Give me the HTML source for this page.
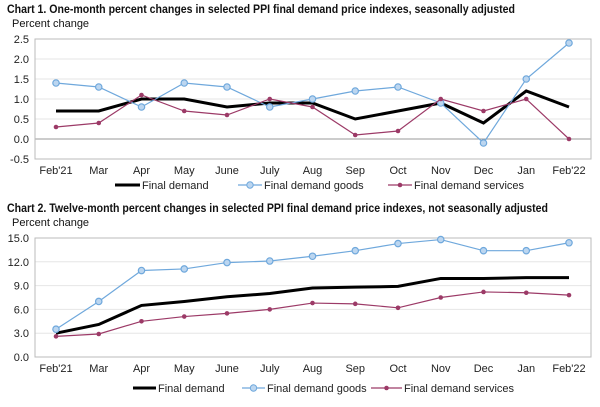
<!DOCTYPE html>
<html><head><meta charset="utf-8"><style>
body{margin:0;background:#fff;width:600px;height:402px;overflow:hidden}
svg{font-family:"Liberation Sans",Arial,sans-serif}
</style></head><body>
<svg id="s" width="600" height="402"></svg>
<script>
const cats=["Feb'21","Mar","Apr","May","June","July","Aug","Sep","Oct","Nov","Dec","Jan","Feb'22"];
const c1Final=[0.7,0.7,1.0,1.0,0.8,0.9,0.9,0.5,0.7,0.9,0.4,1.2,0.8];
const c1Goods=[1.4,1.3,0.8,1.4,1.3,0.8,1.0,1.2,1.3,0.9,-0.1,1.5,2.4];
const c1Serv=[0.3,0.4,1.1,0.7,0.6,1.0,0.8,0.1,0.2,1.0,0.7,1.0,0.0];
const c1Ticks=[-0.5,0,0.5,1,1.5,2,2.5];
const c2Final=[3.0,4.1,6.5,7.0,7.6,8.0,8.7,8.8,8.9,9.9,9.9,10.0,10.0];
const c2Goods=[3.5,7.0,10.9,11.1,11.9,12.1,12.7,13.4,14.3,14.8,13.4,13.4,14.4];
const c2Serv=[2.6,2.9,4.5,5.1,5.5,6.0,6.8,6.7,6.2,7.5,8.2,8.1,7.8];
const c2Ticks=[0,3,6,9,12,15];

const S=document.getElementById('s');const NS="http://www.w3.org/2000/svg";
function mk(t,a,txt){const e=document.createElementNS(NS,t);for(const k in a)e.setAttribute(k,a[k]);if(txt!==undefined)e.textContent=txt;S.appendChild(e);return e;}

function chart(o){
  const L=35,R=591,T=o.top,B=o.bot;
  const x=i=>56+i*(569-56)/12;
  const y=v=>B-(v-o.min)/(o.max-o.min)*(B-T);
  let e=mk('text',{x:7,y:T-26,'font-size':12,'font-weight':'bold',fill:'#111',textLength:o.tlen,lengthAdjust:'spacingAndGlyphs'},o.title);
  
  e=mk('text',{x:12,y:T-12,'font-size':11,fill:'#111'},'Percent change');
  
  o.ticks.forEach(t=>{
    const g=mk('line',{x1:L,x2:R,y1:y(t),y2:y(t),stroke:t===0&&o.min<0?'#999':'#e6e6e6','stroke-width':1});
    
    const lb=mk('text',{x:29,y:y(t)+4,'font-size':11,fill:'#222','text-anchor':'end'},t.toFixed(1));
    
  });
  e=mk('rect',{x:L,y:T,width:R-L,height:B-T,fill:'none',stroke:'#bbb'});
  
  cats.forEach((c,i)=>{const t=mk('text',{x:x(i),y:B+15,'font-size':11,fill:'#222','text-anchor':'middle'},c);
    });
  const ser=[[o.fin,'#000',3,'none','final-demand'],[o.goods,'#6fa8dc',1.2,'circle','final-demand-goods'],[o.serv,'#9c3a67',1.2,'dot','final-demand-services']];
  ser.forEach(([d,col,w,m,n])=>{
    const p=mk('polyline',{points:d.map((v,i)=>x(i)+','+y(v)).join(' '),fill:'none',stroke:col,'stroke-width':w});
    
    if(m!=='none')d.forEach((v,i)=>{
      const c=m==='circle'?mk('circle',{cx:x(i),cy:y(v),r:3.2,fill:'#bcd6f0',stroke:col,'stroke-width':1.2}):mk('circle',{cx:x(i),cy:y(v),r:2.3,fill:col});
      
    });
  });
  const ly=o.leg;
  const lg=o.legx;
  e=mk('line',{x1:lg[0],x2:lg[1],y1:ly,y2:ly,stroke:'#000','stroke-width':3});
  
  mk('text',{x:lg[1]+2,y:ly+4,'font-size':11,fill:'#222'},'Final demand');
  e=mk('line',{x1:lg[2],x2:lg[3],y1:ly,y2:ly,stroke:'#6fa8dc','stroke-width':1.2});
  
  mk('circle',{cx:(lg[2]+lg[3])/2,cy:ly,r:3.2,fill:'#bcd6f0',stroke:'#6fa8dc'});
  mk('text',{x:lg[3]+2,y:ly+4,'font-size':11,fill:'#222'},'Final demand goods');
  e=mk('line',{x1:lg[4],x2:lg[5],y1:ly,y2:ly,stroke:'#9c3a67','stroke-width':1.2});
  
  mk('circle',{cx:(lg[4]+lg[5])/2,cy:ly,r:2.3,fill:'#9c3a67'});
  mk('text',{x:lg[5]+2,y:ly+4,'font-size':11,fill:'#222'},'Final demand services');
}
chart({id:'chart1',title:'Chart 1. One-month percent changes in selected PPI final demand price indexes, seasonally adjusted',tlen:508,
  top:39,bot:159,min:-0.5,max:2.5,ticks:c1Ticks,fin:c1Final,goods:c1Goods,serv:c1Serv,leg:185,legx:[115,140,238,262,388,412]});
chart({id:'chart2',title:'Chart 2. Twelve-month percent changes in selected PPI final demand price indexes, not seasonally adjusted',tlen:541,
  top:238,bot:357,min:0,max:15,ticks:c2Ticks,fin:c2Final,goods:c2Goods,serv:c2Serv,leg:388,legx:[133,156,242,265,371,402]});
</script>
</body></html>
